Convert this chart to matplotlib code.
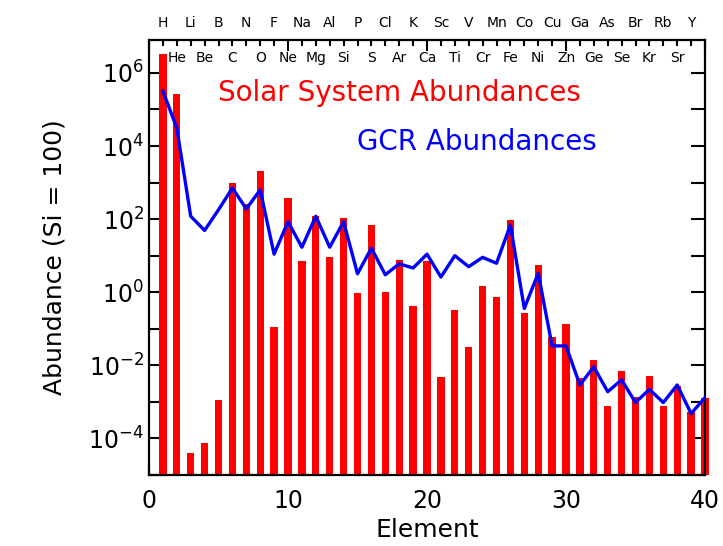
import numpy as np
import matplotlib.pyplot as plt
import matplotlib.transforms as mtransforms
from matplotlib.ticker import FixedLocator, FuncFormatter, NullFormatter

# -----------------------------
# DATA (Si = 100)
# -----------------------------
z = np.arange(1, 41)

symbols = ["H", "He", "Li", "Be", "B", "C", "N", "O", "F", "Ne",
           "Na", "Mg", "Al", "Si", "P", "S", "Cl", "Ar", "K", "Ca",
           "Sc", "Ti", "V", "Cr", "Mn", "Fe", "Co", "Ni", "Cu", "Zn",
           "Ga", "Ge", "As", "Se", "Br", "Kr", "Rb", "Sr", "Y", "Zr"]

solar = [3.2e6, 2.6e5, 4.0e-5, 7.6e-5, 1.1e-3, 1.0e3, 2.6e2, 2.1e3, 0.11, 3.9e2,
         7.2, 1.2e2, 9.3, 1.1e2, 0.95, 69, 1.0, 7.6, 0.43, 7.2,
         4.9e-3, 0.33, 0.032, 1.5, 0.76, 96, 0.27, 5.6, 0.058, 0.135,
         4.4e-3, 0.014, 7.9e-4, 6.9e-3, 1.4e-3, 5.2e-3, 7.9e-4, 2.7e-3, 5.4e-4, 1.26e-3]

gcr = [3.2e5, 3.1e4, 1.2e2, 49, 1.8e2, 7.1e2, 1.9e2, 6.3e2, 11, 85,
       17, 1.2e2, 17, 85, 3.2, 16, 3.0, 6.0, 4.6, 11,
       2.6, 10, 5.0, 9.0, 6.2, 69, 0.36, 3.3, 0.034, 0.034,
       2.9e-3, 9.1e-3, 1.9e-3, 4.0e-3, 9.6e-4, 2.2e-3, 9.6e-4, 2.9e-3, 4.8e-4, 1.3e-3]

ymin, ymax = 1e-5, 10 ** 6.9

# -----------------------------
# PLOT
# -----------------------------
fig = plt.figure(figsize=(7.23, 5.46), dpi=100)
ax = fig.add_axes([149 / 723, 71 / 546, 556 / 723, 435 / 546])

heights = [v - ymin for v in solar]
bars = ax.bar(z, heights, width=0.52, color="#ff0000", bottom=ymin, zorder=2)
bars[-1].set_clip_on(False)
ax.plot(z, gcr, color="#0000ff", lw=2.4, zorder=3)

ax.set_yscale("log")
ax.set_xlim(0, 40)
ax.set_ylim(ymin, ymax)

ax.xaxis.set_major_locator(FixedLocator([0, 10, 20, 30, 40]))
ax.xaxis.set_minor_locator(FixedLocator(np.arange(0, 41)))
ax.yaxis.set_major_locator(FixedLocator([10.0 ** e for e in range(-4, 7, 2)]))
ax.yaxis.set_minor_locator(FixedLocator([10.0 ** e for e in range(-5, 7, 2)]))
ax.yaxis.set_major_formatter(FuncFormatter(lambda v, p: r"$10^{%d}$" % round(np.log10(v))))
ax.yaxis.set_minor_formatter(NullFormatter())

ax.tick_params(which="both", direction="in", top=True, right=True, width=1.5, labelsize=17)
ax.tick_params(axis="x", which="major", length=8)
ax.tick_params(axis="x", which="minor", length=4)
ax.tick_params(axis="y", which="both", length=10)
ax.tick_params(axis="x", pad=10)
for s in ax.spines.values():
    s.set_linewidth(1.6)

ax.set_xlabel("Element", fontsize=18)
ax.set_ylabel("Abundance (Si = 100)", fontsize=18, labelpad=16)

# element symbols: odd above frame, even just inside
trans = mtransforms.blended_transform_factory(ax.transData, ax.transAxes)
for zi, sym in zip(z, symbols):
    if zi == 40:
        continue
    y = 1.04 if zi % 2 == 1 else 0.958
    ax.text(zi, y, sym, transform=trans, ha="center", va="center", fontsize=10)

ax.text(218, 546 - 93, "Solar System Abundances", transform=None, color="#ff0000",
        fontsize=20, ha="left", va="center")
ax.text(357, 546 - 142, "GCR Abundances", transform=None, color="#0000ff",
        fontsize=20, ha="left", va="center")

fig.savefig("out.png", dpi=100)
